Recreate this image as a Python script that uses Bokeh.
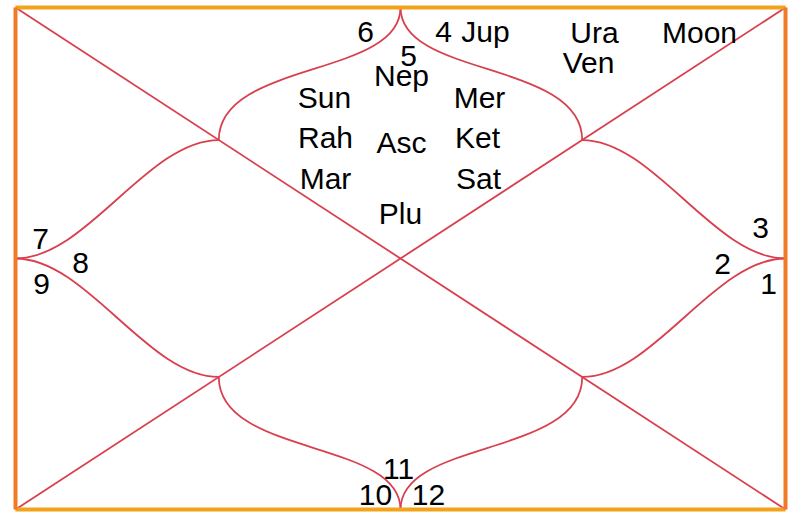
from bokeh.plotting import figure
from bokeh.models import Range1d, ColumnDataSource
from bokeh.core.properties import value
from bokeh.embed import file_html
from bokeh.resources import INLINE

# ---- data ----
house_signs = ["5", "6", "7", "8", "9", "10", "11", "12", "1", "2", "3", "4"]
planet_names = ["Nep", "Sun", "Mer", "Rah", "Asc", "Ket", "Mar", "Sat", "Plu",
                "Jup", "Ura", "Ven", "Moon"]

# ---- layout (chart pixel space of the reference) ----
sign_pos = [(408, 55), (365, 31), (40, 238), (80, 262), (41, 283), (375, 494),
            (398, 468), (428, 494), (768, 283), (722, 263), (760, 227), (443, 31)]
planet_pos = [(401, 75), (324, 97), (479, 97), (325, 137), (401, 142), (477, 137),
              (325, 178), (478, 178), (400, 213), (485, 31), (594, 32), (588, 62),
              (699, 32)]

L, R, T, B = 15, 785, 7, 509
CX, CY = (L + R) / 2, (T + B) / 2
f = 0.264  # fraction along diagonals where curves meet
ulx, uly = L + f * (R - L), T + f * (B - T)
urx, ury = R - f * (R - L), uly
llx, lly = ulx, B - f * (B - T)
lrx, lry = urx, lly

LINE = "#d9404f"

p = figure(width=793, height=512, output_backend="svg", toolbar_location=None,
           x_range=Range1d(0, 793), y_range=Range1d(512, 0), min_border=0)
p.axis.visible = False
p.xgrid.visible = False
p.ygrid.visible = False
p.outline_line_color = None
p.background_fill_color = "white"

# diagonals
p.segment(x0=[L, R], y0=[T, T], x1=[R, L], y1=[B, B], line_color=LINE, line_width=1.8)

# curves
bx0, by0, bx1, by1, c0x, c0y, c1x, c1y = [], [], [], [], [], [], [], []
for (ax, ay), (qx, qy) in [((CX, T), (ulx, uly)), ((CX, T), (urx, ury)),
                           ((CX, B), (llx, lly)), ((CX, B), (lrx, lry))]:
    dy = qy - ay
    bx0.append(ax); by0.append(ay); bx1.append(qx); by1.append(qy)
    c0x.append(ax); c0y.append(ay + 0.53 * dy)
    c1x.append(qx); c1y.append(qy - 0.6 * dy)
for (ax, ay), (qx, qy) in [((L, CY), (ulx, uly)), ((L, CY), (llx, lly)),
                           ((R, CY), (urx, ury)), ((R, CY), (lrx, lry))]:
    dx = qx - ax
    bx0.append(ax); by0.append(ay); bx1.append(qx); by1.append(qy)
    c0x.append(ax + 0.35 * dx); c0y.append(ay)
    c1x.append(qx - 0.35 * dx); c1y.append(qy)
p.bezier(x0=bx0, y0=by0, x1=bx1, y1=by1, cx0=c0x, cy0=c0y, cx1=c1x, cy1=c1y,
         line_color=LINE, line_width=1.8)

# border
p.segment(x0=[L, L], y0=[T, B], x1=[R, R], y1=[T, B], line_color="#f3a31a", line_width=4)
p.segment(x0=[L, R], y0=[T, T], x1=[L, R], y1=[B, B], line_color="#f07a26", line_width=4)

# texts
src_signs = ColumnDataSource(dict(x=[q[0] for q in sign_pos], y=[q[1] for q in sign_pos],
                                  t=house_signs))
src_pl = ColumnDataSource(dict(x=[q[0] for q in planet_pos], y=[q[1] for q in planet_pos],
                               t=planet_names))
for s in (src_signs, src_pl):
    p.text(x="x", y="y", text="t", source=s, text_align="center", text_baseline="middle",
           text_font=value("Liberation Sans"), text_font_size="30px", text_color="black")

open("out.html", "w").write(file_html(p, INLINE))
